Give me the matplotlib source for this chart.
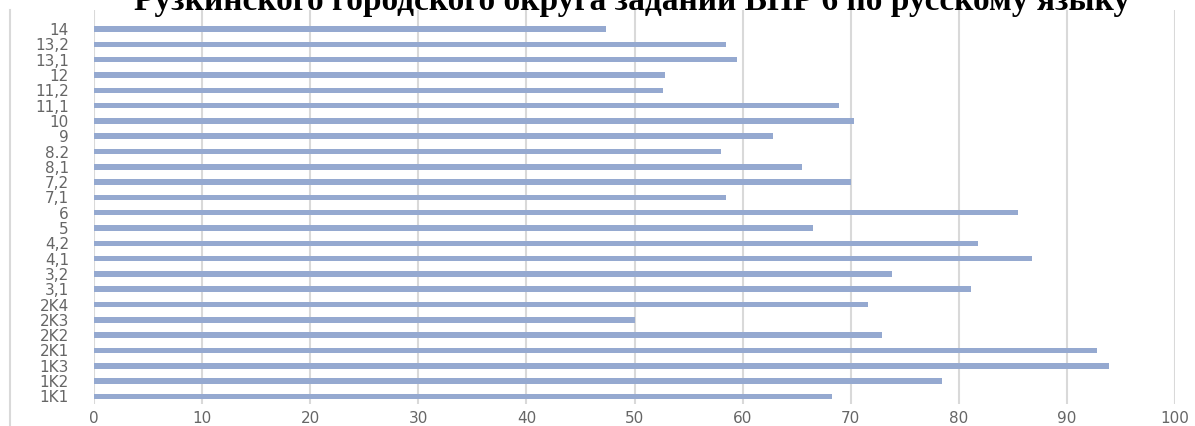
import matplotlib
matplotlib.use("Agg")
import matplotlib.pyplot as plt
from matplotlib.lines import Line2D

# tasks from bottom to top
tasks = ["1K1", "1K2", "1K3", "2K1", "2K2", "2K3", "2K4", "3,1", "3,2", "4,1", "4,2",
         "5", "6", "7,1", "7,2", "8,1", "8.2", "9", "10", "11,1", "11,2", "12",
         "13,1", "13,2", "14"]
percent = [68.3, 78.4, 93.9, 92.8, 72.9, 50.0, 71.6, 81.1, 73.8, 86.8, 81.8,
           66.5, 85.5, 58.5, 70.0, 65.5, 58.0, 62.8, 70.3, 68.9, 52.6, 52.8,
           59.5, 58.5, 47.4]
x_ticks = [0, 10, 20, 30, 40, 50, 60, 70, 80, 90, 100]
title = "Рузкинского городского округа заданий ВПР 6 по русскому языку"

plt.rcParams["font.family"] = ["DejaVu Sans"]

fig = plt.figure(figsize=(11.95, 4.26), dpi=100)
ax = fig.add_axes([94 / 1195, 1 - 404 / 426, (1175 - 94) / 1195, 394 / 426])

ypos = list(range(len(tasks)))
ax.barh(ypos, percent, height=0.36, color="#95a9d0", zorder=3)

ax.set_xlim(0, 100)
ax.set_ylim(-0.5, 25.25)
ax.set_xticks(x_ticks)
ax.set_yticks(ypos)
ax.set_yticklabels(tasks)
ax.xaxis.grid(True, color="#d9d9d9", linewidth=1.5, zorder=0)
ax.tick_params(axis="both", length=0, labelsize=11, labelcolor="#666666")
ax.tick_params(axis="y", pad=18)
ax.tick_params(axis="x", pad=5)
for s in ax.spines.values():
    s.set_visible(False)

# frame line of the chart on the left
fig.add_artist(Line2D([10 / 1195, 10 / 1195], [0, 1 - 10 / 426],
                      transform=fig.transFigure, color="#d9d9d9", linewidth=1.5))

fig.text(632 / 1195, 1 - 10 / 426, title, ha="center", va="baseline",
         fontsize=24, fontweight="bold", family="Liberation Serif")

fig.savefig("out.png", dpi=100)
